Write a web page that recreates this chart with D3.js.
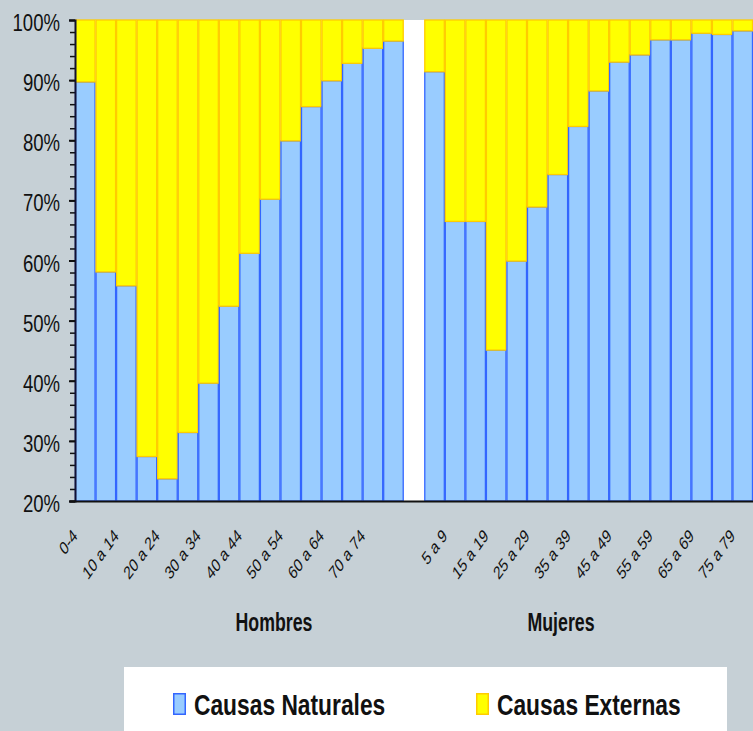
<!DOCTYPE html>
<html>
<head>
<meta charset="utf-8">
<script src="https://cdn.jsdelivr.net/npm/d3@7"></script>
<style>
  html, body { margin: 0; padding: 0; background: #c6d0d6; }
  svg { display: block; }
  text { font-family: "Liberation Sans", Arial, Helvetica, sans-serif; }
</style>
</head>
<body>
<svg id="chart" width="753" height="731"></svg>
<script>
const ageGroups = ["0-4","5 a 9","10 a 14","15 a 19","20 a 24","25 a 29","30 a 34","35 a 39",
                   "40 a 44","45 a 49","50 a 54","55 a 59","60 a 64","65 a 69","70 a 74","75 a 79"];
const hombresNaturales = [89.7,58.1,55.8,27.4,23.7,31.4,39.6,52.4,61.2,70.2,79.9,85.6,89.9,92.8,95.3,96.5];
const hombresExternas  = [10.3,41.9,44.2,72.6,76.3,68.6,60.4,47.6,38.8,29.8,20.1,14.4,10.1,7.2,4.7,3.5];
const mujeresNaturales = [91.4,66.5,66.5,45.1,59.9,68.9,74.3,82.3,88.2,93.0,94.2,96.7,96.7,97.8,97.6,98.2];
const mujeresExternas  = [8.6,33.5,33.5,54.9,40.1,31.1,25.7,17.7,11.8,7.0,5.8,3.3,3.3,2.2,2.4,1.8];
const yTicks = [20,30,40,50,60,70,80,90,100];
const groupNames = ["Hombres","Mujeres"];
const seriesNames = ["Causas Naturales","Causas Externas"];

const colors = {
  nat: "#99ccff", natStroke: "#3366ff",
  ext: "#ffff00", extStroke: "#ffcc00"
};

// Build rows
const rows = [];
ageGroups.forEach((a,i) => rows.push({key:"H|"+a, age:a, nat:hombresNaturales[i], ext:hombresExternas[i]}));
rows.push({key:"gap", age:"", nat:null, ext:null});
ageGroups.forEach((a,i) => rows.push({key:"M|"+a, age:a, nat:mujeresNaturales[i], ext:mujeresExternas[i]}));

const svg = d3.select("#chart");
const mLeft = 75, mRight = 753, mTop = 20, mBottom = 501;

const x = d3.scaleBand().domain(rows.map(d=>d.key)).range([mLeft, mRight]).paddingInner(0).paddingOuter(0);
const y = d3.scaleLinear().domain([20,100]).range([mBottom, mTop]);

// plot background
svg.append("rect").attr("x", mLeft).attr("y", mTop).attr("width", mRight-mLeft).attr("height", mBottom-mTop).attr("fill", "#ffffff");

const bars = svg.append("g");
rows.filter(d=>d.nat!==null).forEach(d => {
  const x0 = x(d.key), w = x.bandwidth();
  bars.append("rect")
    .attr("x", x0+0.5).attr("y", y(d.nat)).attr("width", w-1).attr("height", y(20)-y(d.nat))
    .attr("fill", colors.nat).attr("stroke", colors.natStroke).attr("stroke-width", 1.3);
  bars.append("rect")
    .attr("x", x0+0.5).attr("y", y(d.nat+d.ext)).attr("width", w-1).attr("height", y(d.nat)-y(d.nat+d.ext))
    .attr("fill", colors.ext).attr("stroke", colors.extStroke).attr("stroke-width", 1.3);
});

// Y axis minor ticks
const minor = d3.range(20, 101, 2);
svg.append("g").attr("transform", `translate(${mLeft},0)`)
  .call(d3.axisLeft(y).tickValues(minor).tickSize(5).tickFormat(""))
  .call(g => g.select(".domain").remove())
  .call(g => g.selectAll("line").attr("stroke", "#111").attr("stroke-width", 1.5));
// Y axis major
const yAxis = svg.append("g").attr("transform", `translate(${mLeft},0)`)
  .call(d3.axisLeft(y).tickValues(yTicks).tickSize(6).tickPadding(9).tickFormat(d => d + "%"));
yAxis.attr("font-family", null);
yAxis.select(".domain").attr("stroke", "#111133").attr("stroke-width", 2);
yAxis.selectAll("line").attr("stroke", "#111").attr("stroke-width", 2);
yAxis.selectAll("text")
  .attr("font-size", 23.5).attr("fill", "#111")
  .attr("x", 0).attr("dy", "10.5px")
  .attr("transform", "translate(-15,0) scale(0.79,1)");

// X axis
const labelKeys = rows.map(d=>d.key).filter((k,i) => i % 2 === 0 && k !== "gap");
const xAxis = svg.append("g").attr("transform", `translate(0,${mBottom})`)
  .call(d3.axisBottom(x).tickValues(labelKeys).tickSize(0).tickFormat(k => k.split("|")[1]));
xAxis.attr("font-family", null);
xAxis.select(".domain").attr("stroke", "#111").attr("stroke-width", 2)
  .attr("d", `M${mLeft-5},0.5H${mRight}`);
xAxis.selectAll("text")
  .attr("font-size", 18.5).attr("fill", "#111")
  .attr("text-anchor", "end")
  .attr("dy", 0).attr("y", 0)
  .attr("transform", "translate(-7,36) scale(0.72,1) rotate(-45)");

// Group labels
[[groupNames[0], 274], [groupNames[1], 561]].forEach(([t, gx]) => {
  svg.append("text").attr("transform", `translate(${gx},631) scale(0.67,1)`).attr("text-anchor", "middle")
    .attr("font-size", 26.5).attr("font-weight", "bold").attr("fill", "#111").text(t);
});

// Legend
const lg = svg.append("g");
lg.append("rect").attr("x", 124).attr("y", 667).attr("width", 603).attr("height", 70).attr("fill", "#ffffff");
const legendItems = [
  {name: seriesNames[0], fill: colors.nat, stroke: colors.natStroke, x: 173},
  {name: seriesNames[1], fill: colors.ext, stroke: colors.extStroke, x: 476}
];
legendItems.forEach(it => {
  lg.append("rect").attr("x", it.x + 0.75).attr("y", 693.75).attr("width", 11.5).attr("height", 20.5)
    .attr("fill", it.fill).attr("stroke", it.stroke).attr("stroke-width", 1.5);
  lg.append("text").attr("transform", `translate(${it.x + 21},715) scale(0.76,1)`)
    .attr("font-size", 30).attr("font-weight", "bold")
    .attr("fill", "#111").text(it.name);
});
</script>
</body>
</html>
